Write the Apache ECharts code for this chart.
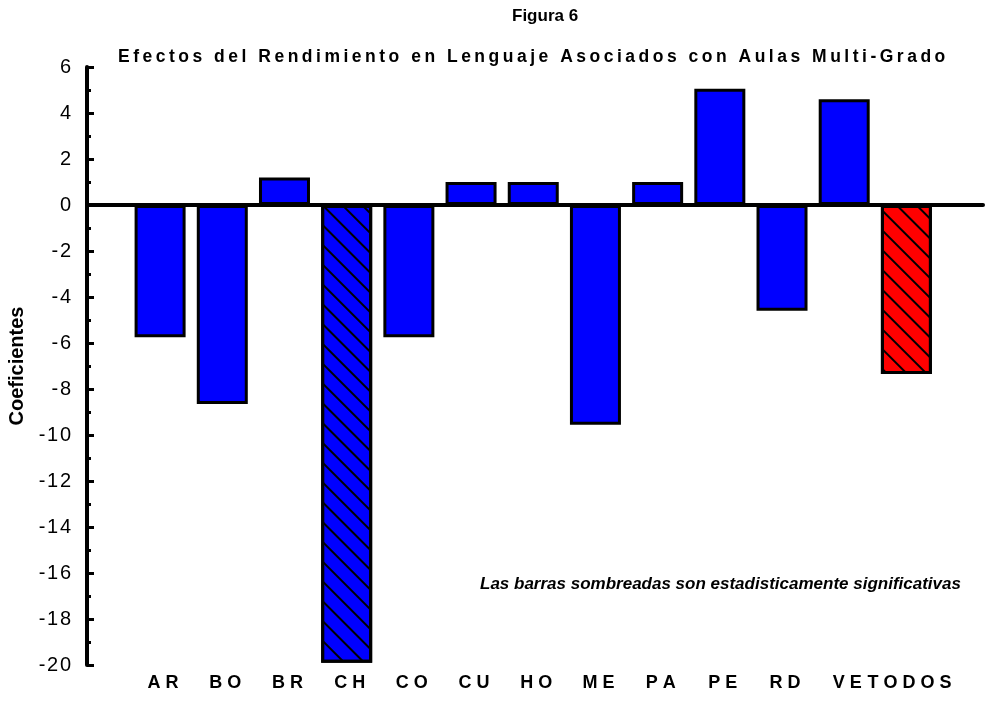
<!DOCTYPE html>
<html>
<head>
<meta charset="utf-8">
<script src="https://cdn.jsdelivr.net/npm/echarts@6/dist/echarts.min.js"></script>
<style>
    html, body { margin: 0; padding: 0; background: #fff; }
    #chart { width: 985px; height: 712px; }
</style>
</head>
<body>
<div id="chart"></div>
<script>
// paises y coeficientes
const paises = ['AR', 'BO', 'BR', 'CH', 'CO', 'CU', 'HO', 'ME', 'PA', 'PE', 'RD', 'VE', 'TODOS'];
const coeficientes = [-5.75, -8.65, 1.2, -19.9, -5.75, 1.0, 1.0, -9.55, 1.0, 5.05, -4.6, 4.6, -7.35];
// barras sombreadas (significativas)
const significativas = ['CH', 'TODOS'];
const colores = { CH: '#0000ff', TODOS: '#ff0000' };

const yMin = -20;
const yMax = 6;
const yPaso = 2;

const rayado = {
    symbol: 'rect',
    symbolSize: 1,
    dashArrayX: [1, 0],
    dashArrayY: [2, 12],
    rotation: Math.PI / 4,
    color: '#000'
};

const barras = paises.map((p, i) => {
    const item = { value: coeficientes[i] };
    if (significativas.indexOf(p) >= 0) {
        item.itemStyle = { color: colores[p], decal: rayado };
    }
    return item;
});

const chart = echarts.init(document.getElementById('chart'));
const fuente = 'Liberation Sans, Arial, sans-serif';
const espaciar = (s, sep) => String(s).split('').join(sep);

chart.setOption({
    animation: false,
    grid: [
        { left: 87, right: 2, top: 67, bottom: 47, outerBoundsMode: 'none' },
        { left: 129, right: 47.5, top: 67, bottom: 47, outerBoundsMode: 'none' }
    ],
    xAxis: [
        {
            gridIndex: 0,
            type: 'value',
            min: 0,
            max: 1,
            axisLine: { show: true, onZero: true, lineStyle: { color: '#000', width: 4 } },
            axisTick: { show: false },
            axisLabel: { show: false },
            splitLine: { show: false }
        },
        {
            gridIndex: 1,
            type: 'category',
            data: paises,
            position: 'bottom',
            axisLine: { show: false, onZero: false },
            axisTick: { show: false },
            axisLabel: {
                interval: 0,
                margin: 9,
                padding: [0, 0, 0, 6],
                color: '#000',
                fontFamily: fuente,
                fontWeight: 'bold',
                fontSize: 18,
                formatter: v => espaciar(v, ' ')
            }
        }
    ],
    yAxis: [
        {
            gridIndex: 0,
            type: 'value',
            min: yMin,
            max: yMax,
            interval: yPaso,
            name: 'Coeficientes',
            nameLocation: 'middle',
            nameRotate: 90,
            nameGap: 54,
            nameTextStyle: { color: '#000', fontFamily: fuente, fontWeight: 'bold', fontSize: 20 },
            axisLine: { show: true, lineStyle: { color: '#000', width: 4 } },
            axisTick: { show: true, inside: true, length: 7, lineStyle: { color: '#000', width: 3 } },
            minorTick: { show: true, splitNumber: 2, length: 4, lineStyle: { color: '#000', width: 3 } },
            axisLabel: {
                margin: 16,
                color: '#000',
                fontFamily: fuente,
                fontSize: 20,
                formatter: v => espaciar(v, '\u200A')
            },
            splitLine: { show: false }
        },
        {
            gridIndex: 1,
            type: 'value',
            min: yMin,
            max: yMax,
            show: false,
            splitLine: { show: false }
        }
    ],
    graphic: [
        {
            type: 'text',
            left: 512,
            top: 8,
            style: { text: 'Figura 6', fill: '#000', font: 'bold 17px ' + fuente }
        },
        {
            type: 'text',
            left: 118,
            top: 48,
            style: {
                text: espaciar('Efectos del Rendimiento en Lenguaje Asociados con Aulas Multi-Grado', '\u2009'),
                fill: '#000',
                font: 'bold 17.5px ' + fuente
            }
        },
        {
            type: 'text',
            left: 480,
            top: 576,
            style: {
                text: 'Las barras sombreadas son estadisticamente significativas',
                fill: '#000',
                font: 'italic bold 17px ' + fuente
            }
        }
    ],
    series: [
        {
            type: 'bar',
            xAxisIndex: 1,
            yAxisIndex: 1,
            data: barras,
            barWidth: 51,
            itemStyle: { color: '#0000ff', borderColor: '#000', borderWidth: 3 }
        }
    ]
});
</script>
</body>
</html>
